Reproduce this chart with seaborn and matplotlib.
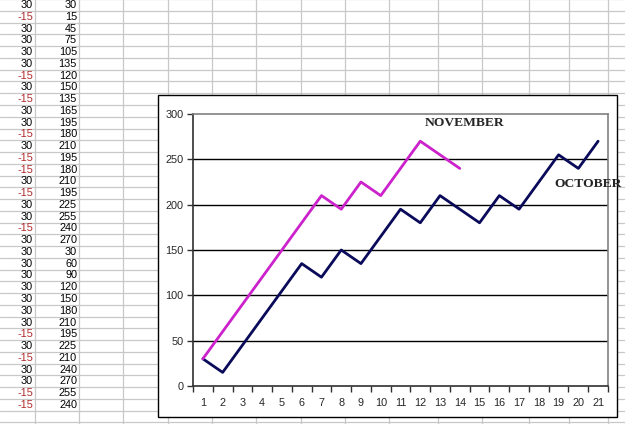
import pandas as pd
import matplotlib
matplotlib.use('Agg')
import matplotlib.pyplot as plt
from matplotlib.patches import Rectangle
from matplotlib.ticker import MultipleLocator
import seaborn as sns

# Datos de la hoja (columna A = cambio, columna B = acumulado)
october_change = [30, -15, 30, 30, 30, 30, -15, 30, -15, 30, 30, -15, 30, -15, -15, 30, -15, 30, 30, -15, 30]
october = [30, 15, 45, 75, 105, 135, 120, 150, 135, 165, 195, 180, 210, 195, 180, 210, 195, 225, 255, 240, 270]
november_change = [30, 30, 30, 30, 30, 30, 30, -15, 30, -15, 30, 30, -15, -15]
november = [30, 60, 90, 120, 150, 180, 210, 195, 225, 210, 240, 270, 255, 240]

df = pd.concat([
    pd.DataFrame({'day': range(1, len(october) + 1), 'value': october, 'month': 'OCTOBER'}),
    pd.DataFrame({'day': range(1, len(november) + 1), 'value': november, 'month': 'NOVEMBER'}),
])

sns.set_style('white')
plt.rcParams['font.family'] = ['Liberation Sans', 'DejaVu Sans']

W, H = 625, 424
fig = plt.figure(figsize=(W / 100, H / 100), dpi=100)

# Fondo: la cuadricula de la hoja de calculo
bg = fig.add_axes([0, 0, 1, 1])
bg.set_xlim(0, W)
bg.set_ylim(H, 0)
bg.axis('off')
row_h = 11.76
for k in range(-1, 37):
    bg.axhline(10.9 + row_h * k, color='#c8c8c8', lw=0.9, zorder=1)
for x in [35, 79, 123, 168, 212, 256, 301, 345, 389, 438, 482, 529, 569, 608]:
    bg.axvline(x, color='#c8c8c8', lw=0.9, zorder=1)

col_a = october_change + november_change
col_b = october + november
for i, (a, b) in enumerate(zip(col_a, col_b)):
    y = 5 + row_h * i
    bg.text(33, y, str(a), ha='right', va='center', fontsize=7.8,
            color='#b02a2a' if a < 0 else 'black')
    bg.text(77, y, str(b), ha='right', va='center', fontsize=7.8, color='black')

# Marco del grafico
bg.add_patch(Rectangle((158, 95), 459, 322, facecolor='white', edgecolor='black', lw=1.0, zorder=5))

# Area del grafico
left, right, top, bottom = 193, 608, 114, 386
ax = fig.add_axes([left / W, 1 - bottom / H, (right - left) / W, (bottom - top) / H])
ax.set_facecolor('white')

sns.lineplot(data=df, x='day', y='value', hue='month',
             palette={'OCTOBER': '#0a0a5a', 'NOVEMBER': '#cc22cc'},
             lw=2, legend=False, ax=ax, zorder=3)

ax.set_xlim(0.5, 21.5)
ax.set_ylim(0, 300)
ax.set_xticks(range(1, 22))
ax.xaxis.set_minor_locator(MultipleLocator(1, offset=0.5))
ax.tick_params(axis='x', which='major', length=0, labelsize=7.8, pad=9)
ax.tick_params(axis='x', which='minor', length=4, width=1, direction='out', bottom=True, color='#303030')
ax.set_yticks(range(0, 301, 50))
ax.tick_params(axis='y', length=4, width=1, direction='out', left=True, labelsize=7.8, pad=3, color='#303030')
ax.set_xlabel('')
ax.set_ylabel('')

for y in range(50, 300, 50):
    ax.axhline(y, color='black', lw=1, zorder=1)

ax.spines['left'].set_color('#303030')
ax.spines['bottom'].set_color('#303030')
ax.spines['top'].set_color('#808080')
ax.spines['right'].set_color('#808080')
for s in ax.spines.values():
    s.set_linewidth(1.2)

ax.text(14.26, 290, 'NOVEMBER', ha='center', va='center', fontsize=9.7,
        fontweight='bold', family=['Liberation Serif', 'DejaVu Serif'], clip_on=False)
ax.text(20.49, 223, 'OCTOBER', ha='center', va='center', fontsize=9.7,
        fontweight='bold', family=['Liberation Serif', 'DejaVu Serif'], clip_on=False, zorder=6)

fig.savefig('out.png', dpi=100)
